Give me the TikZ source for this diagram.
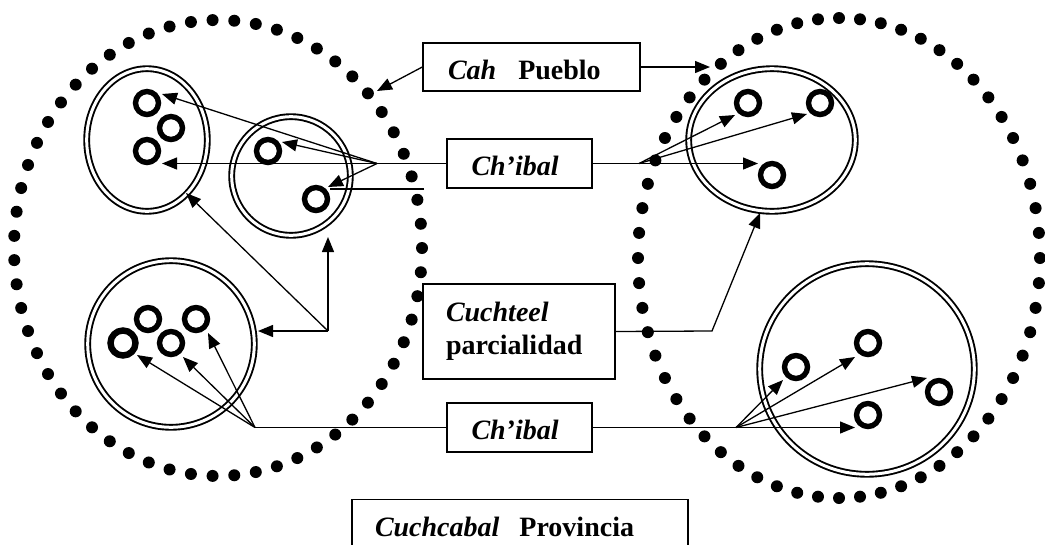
\documentclass[tikz,border=0pt]{standalone}
\usepackage{fontspec}
\setmainfont{Liberation Serif}
\usetikzlibrary{arrows.meta,shapes.geometric}
\begin{document}
\begin{tikzpicture}[x=1pt,y=-1pt,
  box/.style={draw,line width=1.4pt,inner sep=0pt,font=\fontsize{28}{33}\selectfont\bfseries},
  lbl/.style={text height=24pt,text depth=0pt,align=left},
  grp/.style={draw,ellipse,double,line width=1.9pt,double distance=3pt,inner sep=0pt},
  ring/.style={draw,circle,line width=5.4pt,inner sep=0pt,minimum size=23pt},
  bigring/.style={ring,line width=6.4pt,minimum size=25pt},
  arr/.style={-{Triangle[length=15pt,width=12pt]},line width=1.3pt},
  ln/.style={line width=1.3pt},
  dotc/.style={fill=black}
]
\useasboundingbox (0,0) rectangle (1045,544);

% groups (double ellipses)
\node[grp,minimum width=120.6pt,minimum height=142.6pt] (e1) at (147,140) {};
\node[grp,minimum width=118.6pt,minimum height=118.6pt] (e2) at (291,176) {};
\node[grp,minimum width=166.6pt,minimum height=166.6pt] (e3) at (171,344) {};
\node[grp,minimum width=166.6pt,minimum height=142.6pt] (e4) at (772,140) {};
\node[grp,minimum width=214.6pt,minimum height=210.6pt] (e5) at (867,369) {};

% rings
\node[ring] (r1) at (147,103) {};
\node[ring] (r2) at (171,128) {};
\node[ring] (r3) at (147,151) {};
\node[ring] (r4) at (268,151) {};
\node[ring] (r5) at (316,199) {};
\node[bigring] (r6) at (123,343) {};
\node[ring] (r7) at (148,319) {};
\node[ring] (r8) at (171,343) {};
\node[ring] (r9) at (196,319) {};
\node[ring] (r10) at (748,103) {};
\node[ring] (r11) at (820,103) {};
\node[ring] (r12) at (772,175) {};
\node[ring] (r13) at (796,367) {};
\node[ring] (r14) at (868,343) {};
\node[ring] (r15) at (939,392) {};
\node[ring] (r16) at (868,415) {};

% boxes
\node[box,lbl,minimum width=217pt,minimum height=48pt,text width=167pt] (cah) at (531.5,67) {\textit{Cah}\hspace{22pt}Pueblo};
\node[box,lbl,minimum width=145pt,minimum height=49pt,text width=96pt] (ch1) at (519.5,163.5) {\textit{Ch’ibal}};
\node[box,minimum width=192pt,minimum height=95pt,align=left,text width=146pt] (cuch) at (519,331.5) {\textit{Cuchteel}\\parcialidad};
\node[box,lbl,minimum width=145pt,minimum height=49pt,text width=96pt] (ch2) at (519.5,427.5) {\textit{Ch’ibal}};
\node[box,lbl,minimum width=336pt,minimum height=50pt,anchor=north,text width=290pt] (prov) at (520,499) {\textit{Cuchcabal}\hspace{20pt}Provincia};

% coordinates
\coordinate (cahL) at (377,91);
\coordinate (cahR) at (710,67);
\coordinate (bL) at (377,163.5);
\coordinate (bR) at (639,163.5);
\coordinate (t1) at (162,94);
\coordinate (t3) at (162,163.5);
\coordinate (t4) at (282,142);
\coordinate (t5) at (328,187);
\coordinate (hA) at (424,189);
\coordinate (hB) at (330,189);
\coordinate (t10) at (735,115);
\coordinate (t11) at (807,114);
\coordinate (t12) at (758,163.5);
\coordinate (kR) at (712,331);
\coordinate (tE4) at (760,213);
\coordinate (cL) at (328,331);
\coordinate (tE3) at (258,331);
\coordinate (tE2) at (328,237);
\coordinate (tE1) at (186,193);
\coordinate (dL) at (255,427.5);
\coordinate (dR) at (736,427.5);
\coordinate (t6) at (137,355);
\coordinate (t8) at (183,357);
\coordinate (t9) at (208,333);
\coordinate (t13) at (783,380);
\coordinate (t14) at (855,357);
\coordinate (t15) at (927,378);
\coordinate (t16) at (855,427.5);

% connectors
\draw[arr] (cah.west) -- (cahL);
\draw[arr] (cah.east) -- (cahR);
\draw[ln] (ch1.west) -- (bL);
\draw[ln] (ch1.east) -- (bR);
\foreach \t in {t1,t3,t4,t5} \draw[arr] (bL) -- (\t);
\draw[ln] (hA) -- (hB);
\foreach \t in {t10,t11,t12} \draw[arr] (bR) -- (\t);
\draw[arr] (cuch.east) -- (kR) -- (tE4);
\foreach \t in {tE3,tE2,tE1} \draw[arr] (cL) -- (\t);
\draw[ln] (ch2.west) -- (dL);
\draw[ln] (ch2.east) -- (dR);
\foreach \t in {t6,t8,t9} \draw[arr] (dL) -- (\t);
\foreach \t in {t13,t14,t15,t16} \draw[arr] (dR) -- (\t);

% dotted boundaries
\foreach \i in {0,...,58}
  \fill[dotc] ({218+204*cos(6.101695*\i)},{248+228*sin(6.101695*\i)}) circle[radius=6pt];
\foreach \i in {0,...,59}
  \fill[dotc] ({839+201*cos(6*\i)},{258+240*sin(6*\i)}) circle[radius=6pt];
\end{tikzpicture}
\end{document}
